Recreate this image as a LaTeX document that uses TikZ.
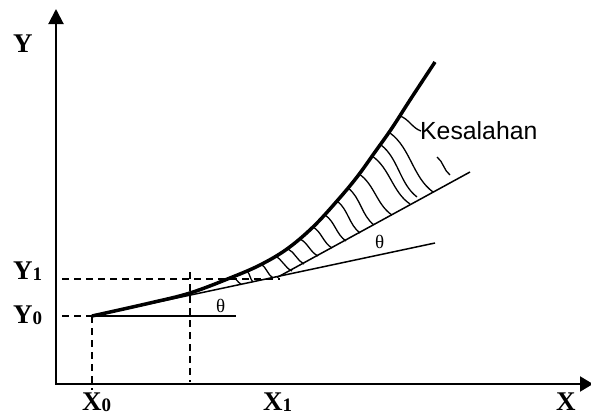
\documentclass[tikz,border=0pt]{standalone}
\usepackage{fontspec}
\setmainfont{Liberation Serif}
\newfontfamily\kesfont{Liberation Sans}
\usetikzlibrary{arrows.meta,calc}
\newcommand{\subl}[2]{#1\raisebox{-1.5pt}{\fontsize{19}{19}\selectfont #2}}

\begin{document}
\begin{tikzpicture}[
  x=1pt, y=-1pt,
  axis/.style={line width=2pt,
    {Triangle[length=15pt,width=15pt]}-{Triangle[length=13pt,width=15pt]}},
  curve/.style={line width=3.5pt},
  tline/.style={line width=1.5pt},
  guide/.style={line width=1.6pt, dash pattern=on 7pt off 5pt},
  hatch/.style={line width=1.3pt},
  lbl/.style={inner sep=0pt, anchor=base west,
    font=\fontsize{27}{30}\selectfont\bfseries},
  ang/.style={inner sep=0pt, anchor=base west,
    font=\fontsize{19}{22}\selectfont}
]
\useasboundingbox (0,0) rectangle (591,415);

% Points
\coordinate (O) at (56,384);
\coordinate (ytip) at (56,9);
\coordinate (xtip) at (593,384);
\coordinate (P0) at (92,316);
\coordinate (P1) at (277,277.5);
\coordinate (H0) at (236,316);
\coordinate (T0) at (435,243);
\coordinate (T1) at (470,172);

% Axes
\draw[axis] (ytip) -- (O) -- (xtip);

% Dashed guides
\coordinate (Y0a) at (62,316);
\coordinate (Y1a) at (62,279);
\coordinate (Y1b) at (280,279);
\coordinate (X0b) at (92,390);
\coordinate (Ma) at (190,272);
\coordinate (Mb) at (190,382);
\draw[guide] (Y0a) -- (P0);
\draw[guide] (Y1a) -- (Y1b);
\draw[guide] (P0) -- (X0b);
\draw[guide] (Ma) -- (Mb);

% Tangent lines
\draw[tline] (P0) -- (H0);
\draw[tline] (P0) -- (T0);
\draw[tline] (P1) -- (T1);

% Error hatching (wavy strokes)
\foreach \xa/\ya/\xb/\yb in {233/277/241/284, 247/271/253/282,
    261/264/273/278, 275/256/292/271, 288/249/304/264,
    300/239/318/256, 313/227/332/248, 325/215/346/241,
    337/201/360/233, 348/188/374/225, 359/174/392/215,
    372/156/410/204, 381/145/417/197, 390/133/433/192,
    437/157/450/175, 400/116/421/131}
{
  \coordinate (ha) at (\xa,\ya);
  \coordinate (hb) at (\xb,\yb);
  \path (ha) -- (hb) coordinate[pos=0.33] (hc) coordinate[pos=0.67] (hd);
  \draw[hatch] (ha) .. controls ($(hc)!0.16!90:(hb)$)
    and ($(hd)!0.32!-90:(hb)$) .. (hb);
}

% Exact curve
\draw[curve] plot[smooth, tension=0.6] coordinates {(92,316) (150,303)
  (190,293) (230,278) (260,265) (287,249) (313,227) (337,201)
  (357,177) (375,152) (392,128) (410,100) (435,62)};

% Labels
\node[inner sep=0pt, anchor=base west, font=\kesfont\fontsize{24.8}{28}\selectfont]
  (err) at (420,139) {Kesalahan};

\node[lbl] (ylab) at (13,52) {Y};
\node[lbl] (y1lab) at (13,279) {\subl{Y}{1}};
\node[lbl] (y0lab) at (13,323) {\subl{Y}{0}};
\node[lbl] (x0lab) at (82,410) {\subl{X}{0}};
\node[lbl] (x1lab) at (263,410) {\subl{X}{1}};
\node[lbl] (xlab) at (556,410) {X};
\node[ang] (th0) at (216,312) {θ};
\node[ang] (th1) at (375,248) {θ};

\end{tikzpicture}
\end{document}
